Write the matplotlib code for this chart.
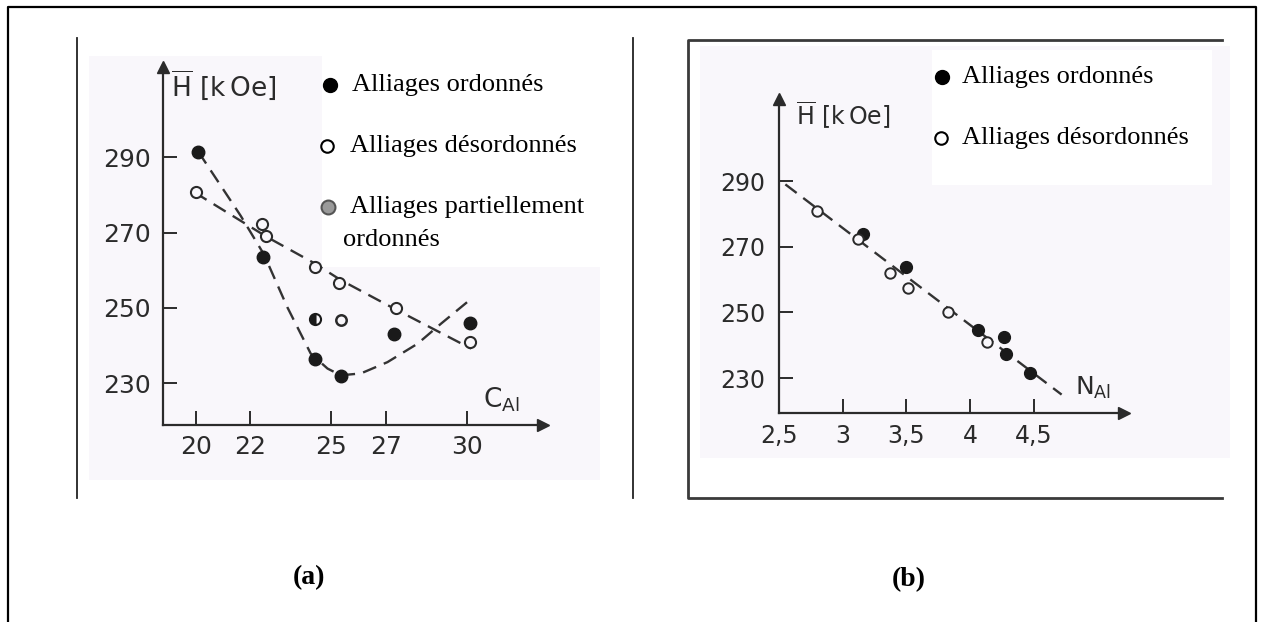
import matplotlib
matplotlib.use("Agg")
import matplotlib.pyplot as plt
from matplotlib import font_manager
from matplotlib.patches import Rectangle

W, H = 1264, 622
INK = "#2b2b2b"
TINT = "#f9f7fb"
SERIF = "Liberation Serif"

_names = {f.name for f in font_manager.fontManager.ttflist}
NARROW = "Liberation Sans Narrow" if "Liberation Sans Narrow" in _names else "DejaVu Sans"
NARROW_SIZE = 23 if NARROW == "Liberation Sans Narrow" else 18

# ---- panel (a): H vs C_Al ----
a_xticks = [20, 22, 25, 27, 30]
a_yticks = [230, 250, 270, 290]
a_ord_x = [20.1, 22.5, 24.4, 25.35, 27.3, 30.1]
a_ord_y = [291.5, 263.6, 236.5, 232.0, 243.0, 246.0]
a_dis_x = [20.0, 22.45, 22.6, 24.4, 25.3, 27.4, 30.1]
a_dis_y = [280.7, 272.3, 269.2, 261.0, 256.5, 250.0, 241.0]
a_part_x = [24.4]
a_part_y = [247.0]
a_part2_x = [25.35]
a_part2_y = [246.7]
a_curve_ord_x = [20.1, 21.66, 22.52, 23.38, 24.24, 24.86, 25.35, 26.09, 27.07, 28.18, 29.04, 30.15]
a_curve_ord_y = [291.5, 274.5, 264.2, 250.2, 237.9, 233.9, 232.1, 232.6, 235.6, 240.5, 245.8, 252.4]
a_curve_dis_x = [19.96, 22.64, 24.37, 25.35, 27.32, 30.15]
a_curve_dis_y = [280.7, 268.8, 261.9, 257.4, 249.8, 239.2]

# ---- panel (b): H vs N_Al ----
b_xticks = [2.5, 3, 3.5, 4, 4.5]
b_xlabels = ["2,5", "3", "3,5", "4", "4,5"]
b_yticks = [230, 250, 270, 290]
b_ord_x = [3.16, 3.50, 4.06, 4.27, 4.28, 4.47]
b_ord_y = [274.0, 264.0, 244.7, 242.5, 237.4, 231.7]
b_dis_x = [2.80, 3.12, 3.37, 3.51, 3.83, 4.13]
b_dis_y = [281.0, 272.5, 262.0, 257.5, 250.0, 241.0]
b_fit_x = [2.55, 4.72]
b_fit_y = [289.0, 225.0]


def frac_box(x0, y0, x1, y1):
    # pixel box (top-left origin) -> figure fraction rect
    return [x0 / W, 1 - y1 / H, (x1 - x0) / W, (y1 - y0) / H]


def style_axes(ax, xlim, ylim, xticks, xlabels, yticks, family, size, xpad, ypad):
    ax.set_xlim(xlim)
    ax.set_ylim(ylim)
    ax.patch.set_visible(False)
    ax.spines[["top", "right"]].set_visible(False)
    for s in ["left", "bottom"]:
        ax.spines[s].set_linewidth(1.6)
        ax.spines[s].set_color(INK)
    ax.set_xticks(xticks, xlabels)
    ax.set_yticks(yticks, [str(v) for v in yticks])
    ax.tick_params(direction="in", length=10, width=1.4, colors=INK, labelsize=size)
    ax.tick_params(axis="x", pad=xpad)
    ax.tick_params(axis="y", pad=ypad)
    for lbl in ax.get_xticklabels() + ax.get_yticklabels():
        lbl.set_fontfamily(family)
    ax.plot(1, 0, ">", color=INK, ms=8, transform=ax.transAxes, clip_on=False)
    ax.plot(0, 1, "^", color=INK, ms=8, transform=ax.transAxes, clip_on=False)


fig = plt.figure(figsize=(W / 100, H / 100), dpi=100)

# background layer in pixel coordinates: frames, scan tint, legend boxes
bg = fig.add_axes([0, 0, 1, 1], zorder=0)
bg.set_xlim(0, W)
bg.set_ylim(H, 0)
bg.axis("off")
bg.add_patch(Rectangle((89, 56), 511, 424, color=TINT, lw=0))
bg.add_patch(Rectangle((700, 46), 530, 412, color=TINT, lw=0))
bg.add_patch(Rectangle((322, 50), 300, 217, color="white", lw=0))
bg.add_patch(Rectangle((932, 50), 280, 135, color="white", lw=0))
bg.plot([8, 8, 1256, 1256], [H, 7, 7, H], color="black", lw=1.6)
bg.plot([77, 77], [38, 498], color="#222222", lw=1.3)
bg.plot([633, 633], [38, 498], color="#222222", lw=1.3)
bg.plot([1222, 688, 688, 1222], [40, 40, 498, 498], color="#3a3a3a", lw=2.0)

# panel (a)
axa = fig.add_axes(frac_box(163, 67, 543, 425), zorder=2)
style_axes(axa, (18.8, 32.8), (218.9, 314), a_xticks, [str(v) for v in a_xticks],
           a_yticks, NARROW, NARROW_SIZE, 7, 9)
dash = dict(color="#333333", lw=1.7, ls=(0, (6, 3.5)))
axa.plot(a_curve_ord_x, a_curve_ord_y, **dash)
axa.plot(a_curve_dis_x, a_curve_dis_y, **dash)
axa.plot(a_ord_x, a_ord_y, "o", color="#1a1a1a", ms=9)
axa.plot(a_dis_x, a_dis_y, "o", mfc=TINT, mec="#2a2a2a", mew=1.5, ms=8)
axa.plot(a_part_x, a_part_y, "o", fillstyle="left", color="#1a1a1a",
         mfcalt=TINT, mew=1.5, ms=8)
axa.plot(a_part2_x, a_part2_y, "o", mfc=TINT, mec="#2a2a2a", mew=1.8, ms=7.5)
axa.text(0.02, 0.95, r"$\overline{\mathsf{H}}\ \left[\mathsf{k\,Oe}\right]$", transform=axa.transAxes,
         fontsize=19, color=INK, va="center")
axa.text(0.89, 0.07, r"$\mathsf{C_{Al}}$", transform=axa.transAxes,
         fontsize=19, color=INK, va="center", ha="center")

# panel (b)
axb = fig.add_axes(frac_box(779, 99, 1124, 413), zorder=2)
style_axes(axb, (2.5, 5.21), (219.4, 315), b_xticks, b_xlabels,
           b_yticks, "DejaVu Sans", 17, 8, 10)
axb.plot(b_fit_x, b_fit_y, **dash)
axb.plot(b_ord_x, b_ord_y, "o", color="#1a1a1a", ms=8.5)
axb.plot(b_dis_x, b_dis_y, "o", mfc=TINT, mec="#2a2a2a", mew=1.4, ms=7.5)
axb.text(0.05, 0.95, r"$\overline{\mathsf{H}}\ \left[\mathsf{k\,Oe}\right]$", transform=axb.transAxes,
         fontsize=17, color=INK, va="center")
axb.text(0.91, 0.08, r"$\mathsf{N_{Al}}$", transform=axb.transAxes,
         fontsize=18, color=INK, va="center", ha="center")

# legends drawn as in the source figure
txt = dict(fontsize=19, family=SERIF, color="black", va="center")
bg.plot(330, 85, "o", color="black", ms=10)
bg.text(352, 85, "Alliages ordonnés", **txt)
bg.plot(327, 146, "o", mfc="white", mec="black", mew=1.5, ms=9)
bg.text(350, 146, "Alliages désordonnés", **txt)
bg.plot(328, 207, "o", mfc="#9a9a9a", mec="#555555", mew=1.5, ms=10)
bg.text(350, 207, "Alliages partiellement", **txt)
bg.text(343, 240, "ordonnés", **txt)

bg.plot(942, 77, "o", color="black", ms=10)
bg.text(962, 77, "Alliages ordonnés", **txt)
bg.plot(941, 138, "o", mfc="white", mec="black", mew=1.5, ms=9)
bg.text(962, 138, "Alliages désordonnés", **txt)

lab = dict(fontsize=20, family=SERIF, fontweight="bold", ha="center", va="center")
bg.text(309, 578, "(a)", **lab)
bg.text(909, 580, "(b)", **lab)

fig.savefig("out.png", dpi=100)
